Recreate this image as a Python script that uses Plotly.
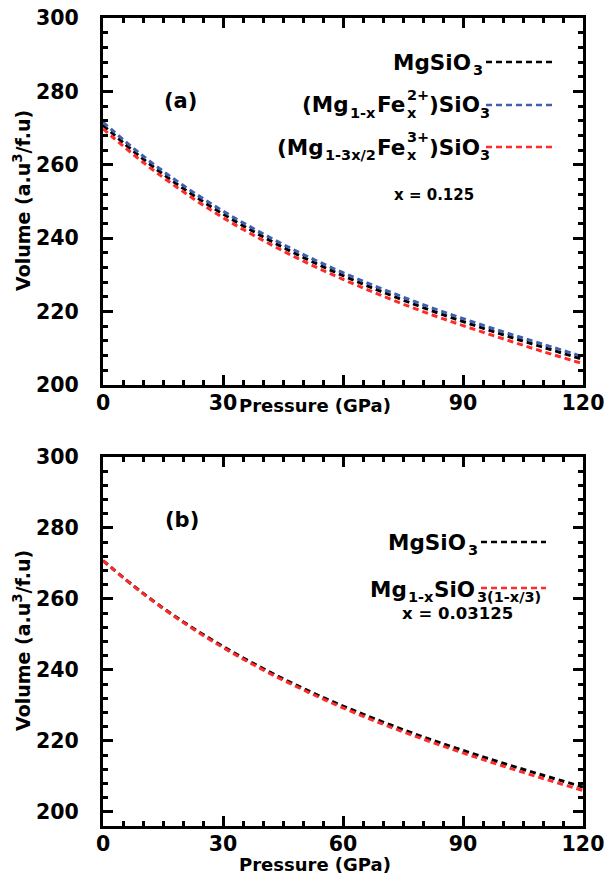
import plotly.graph_objects as go
from plotly.subplots import make_subplots

pressure = [0, 10, 20, 30, 40, 50, 60, 70, 80, 90, 100, 110, 120]
mgsio3 = [270.8, 261.6, 253.6, 246.6, 240.4, 234.8, 229.8, 225.3, 221.1, 217.3, 213.7, 210.3, 207.0]
fe2 = [271.6, 262.4, 254.4, 247.4, 241.2, 235.6, 230.6, 226.1, 221.9, 218.1, 214.5, 211.1, 207.7]
fe3 = [269.8, 260.7, 252.7, 245.6, 239.4, 233.8, 228.8, 224.2, 220.0, 216.2, 212.6, 209.1, 205.8]
mgvac = [270.8, 261.5, 253.4, 246.3, 240.0, 234.4, 229.3, 224.7, 220.5, 216.6, 212.9, 209.4, 206.0]

x_ticks = [0, 30, 60, 90, 120]
x_labels_a = ["0", "30", "", "90", "120"]
x_labels_b = ["0", "30", "60", "90", "120"]
y_ticks = [200, 220, 240, 260, 280, 300]

FONT = "DejaVu Sans"
BLACK = "#000000"
BLUE = "#3f5fb0"
RED = "#ff2a2a"

W, H = 607, 890
ML, MR, MT, MB = 103, 24, 18, 64
PW = W - ML - MR
PH = H - MT - MB

# DejaVu Sans Bold advance widths (em) for layout of composite labels
EM = {'(': .457, ')': .457, 'M': .995, 'g': .716, 'F': .683, 'e': .678, 'S': .720, 'i': .343,
      'O': .850, '1': .696, '-': .415, 'x': .712, '3': .696, '/': .365, '2': .696, '+': .838}


def tw(s, size):
    return sum(EM.get(c, .6) for c in s) * size


def px(xp):
    return (xp - ML) / PW


def py(yp):
    return (H - MB - yp) / PH


top_a, bot_a = 18, 385
top_b, bot_b = 457, 826

fig = make_subplots(rows=2, cols=1)
dash = "6px,4px"


def curve(y, color, row):
    fig.add_trace(go.Scatter(x=pressure, y=y, mode="lines", hoverinfo="skip",
                             line=dict(color=color, width=3, dash=dash, shape="spline")),
                  row=row, col=1)


curve(mgsio3, BLACK, 1)
curve(fe2, BLUE, 1)
curve(fe3, RED, 1)
curve(mgsio3, BLACK, 2)
curve(mgvac, RED, 2)

axis_common = dict(
    showline=True, linewidth=3, linecolor="black", mirror="ticks",
    ticks="inside", ticklen=10, tickwidth=2.5, tickcolor="black",
    showgrid=False, zeroline=False, automargin=False,
    tickfont=dict(family=FONT, size=20.5, color="black", weight="bold"),
)

fig.update_xaxes(**axis_common, range=[0, 120], tickvals=x_ticks, ticklabelstandoff=-3,
                 minor=dict(dtick=5, tick0=0, ticks="inside", ticklen=5, tickwidth=2.5, tickcolor="black"))
fig.update_xaxes(ticktext=x_labels_a, row=1, col=1)
fig.update_xaxes(ticktext=x_labels_b, row=2, col=1)
fig.update_yaxes(**axis_common, tickvals=y_ticks, ticktext=[str(v) for v in y_ticks], ticklabelstandoff=17,
                 minor=dict(dtick=4, tick0=200, ticks="inside", ticklen=5, tickwidth=2.5, tickcolor="black"))
fig.update_yaxes(range=[200, 300], row=1, col=1)
fig.update_yaxes(range=[196, 300], row=2, col=1)

fig.update_layout(
    xaxis=dict(domain=[0, 1]), xaxis2=dict(domain=[0, 1]),
    yaxis=dict(domain=[py(bot_a), py(top_a)]),
    yaxis2=dict(domain=[py(bot_b), py(top_b)]),
)

ann = []
MAIN = 21.5
SUB = 14.5


def text(x, y, t, size=MAIN, xanchor="center", angle=0):
    ann.append(dict(x=px(x), y=py(y), xref="paper", yref="paper", text=t, showarrow=False,
                    xanchor=xanchor, yanchor="middle", textangle=angle, borderpad=0,
                    font=dict(family=FONT, size=size, color="black", weight="bold")))


shapes = []


def sample(x0, x1, y, color):
    shapes.append(dict(type="line", xref="paper", yref="paper", x0=px(x0), x1=px(x1), y0=py(y), y1=py(y),
                       line=dict(color=color, width=2.5, dash="6px,4px")))


# panel (a)
text(180, 101, "(a)", size=21)
text(472, 62, "MgSiO", xanchor="right")
text(472, 70, "3", size=SUB, xanchor="left")
sample(486, 552, 62, BLACK)

for yc, pre, sup, col in [(105, "1-x", "2+", BLUE), (147, "1-3x/2", "3+", RED)]:
    fe_end = 406
    fe_start = fe_end - tw("Fe", MAIN)
    text(fe_end, yc, "Fe", xanchor="right")
    text(fe_start, yc + 8, pre, size=SUB, xanchor="right")
    text(fe_start - tw(pre, SUB), yc, "(Mg", xanchor="right")
    text(fe_end, yc + 8, "x", size=SUB, xanchor="left")
    text(fe_end, yc - 10, sup, size=SUB, xanchor="left")
    paren = fe_end + tw(sup, SUB)
    text(paren, yc, ")SiO", xanchor="left")
    text(paren + tw(")SiO", MAIN), yc + 8, "3", size=SUB, xanchor="left")
    sample(486, 552, yc, col)

text(434, 195, "x = 0.125", size=15)
text(315, 405, "Pressure (GPa)", size=18)
text(22, 201, "Volume (a.u<sup>3</sup>/f.u)", size=19, angle=-90)

# panel (b)
text(182, 520, "(b)", size=21)
text(467, 542, "MgSiO", xanchor="right")
text(467, 550, "3", size=SUB, xanchor="left")
sample(481, 546, 542, BLACK)
sio_end = 476
sio_start = sio_end - tw("SiO", MAIN)
text(sio_end, 589, "SiO", xanchor="right")
text(sio_start, 597, "1-x", size=SUB, xanchor="right")
text(sio_start - tw("1-x", SUB), 589, "Mg", xanchor="right")
text(sio_end, 597, "3(1-x/3)", size=SUB, xanchor="left")
sample(481, 546, 588, RED)
text(457, 613, "x = 0.03125", size=16.5)
text(315, 864, "Pressure (GPa)", size=18)
text(22, 641, "Volume (a.u<sup>3</sup>/f.u)", size=19, angle=-90)

fig.update_layout(
    width=W, height=H, showlegend=False,
    margin=dict(l=ML, r=MR, t=MT, b=MB),
    paper_bgcolor="white", plot_bgcolor="white",
    annotations=ann, shapes=shapes,
    font=dict(family=FONT),
)

fig.write_html("out.html", config={"displayModeBar": False},
               post_script="document.body.style.margin='0px';document.body.style.overflow='hidden';")
